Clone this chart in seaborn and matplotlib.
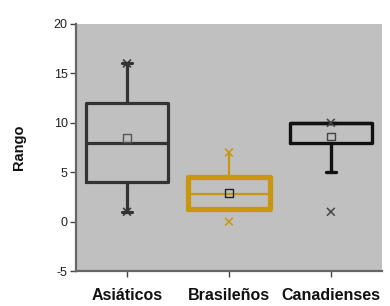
import matplotlib
matplotlib.use("Agg")
import matplotlib.pyplot as plt
import seaborn as sns
import pandas as pd

categories = ["Asiáticos", "Brasileños", "Canadienses"]
q1 = [4, 1.25, 8]
median = [8, 2.8, 10]
q3 = [12, 4.55, 10]
whisker_low = [1, 1.25, 5]
whisker_high = [16, 7, 10]
means = [8.45, 2.9, 8.6]
min_vals = [1, 0, 1]
max_vals = [16, 7, 10]
yticks = [-5, 0, 5, 10, 15, 20]

box_colors = ["#333333", "#C9970E", "#111111"]
box_lw = [2.3, 3.8, 2.4]
inner_lw = [2.3, 1.6, 2.4]
mean_colors = ["#555555", "#222222", "#444444"]
mark_colors = ["#333333", "#C9970E", "#444444"]
cap_w = [0.1, 0.0, 0.1]

sns.set_theme(style="ticks")
plt.rcParams["font.family"] = ["Liberation Sans", "DejaVu Sans"]

fig = plt.figure(figsize=(3.9, 3.06), dpi=100)
ax = fig.add_axes([0.195, 0.114, 0.784, 0.808])
ax.set_facecolor("#C0C0C0")

for i, cat in enumerate(categories):
    stats = [dict(label=cat, med=median[i], q1=q1[i], q3=q3[i],
                  whislo=whisker_low[i], whishi=whisker_high[i], fliers=[])]
    c = box_colors[i]
    ax.bxp(stats, positions=[i], widths=0.8, showfliers=False,
           showcaps=cap_w[i] > 0, capwidths=cap_w[i] if cap_w[i] > 0 else None,
           boxprops=dict(color=c, linewidth=box_lw[i]),
           medianprops=dict(color=c, linewidth=inner_lw[i]),
           whiskerprops=dict(color=c, linewidth=inner_lw[i]),
           capprops=dict(color=c, linewidth=inner_lw[i]),
           manage_ticks=False)

df_mean = pd.DataFrame({"x": range(3), "y": means})
sns.scatterplot(data=df_mean, x="x", y="y", marker="s", s=28,
                facecolor="none", edgecolor=mean_colors, linewidth=1.0, ax=ax, zorder=5)

df_ext = pd.DataFrame({"x": list(range(3)) * 2, "y": min_vals + max_vals,
                       "c": mark_colors * 2})
sns.scatterplot(data=df_ext, x="x", y="y", marker="x", s=32,
                color=list(df_ext["c"]), linewidth=1.1, ax=ax, zorder=6)

ax.set_xlim(-0.5, 2.5)
ax.set_ylim(-5, 20)
ax.set_yticks(yticks)
ax.set_yticklabels([str(t) for t in yticks], fontsize=9, color="#222222")
ax.set_xticks(range(3))
ax.set_xticklabels(categories, fontsize=11.5, fontweight="bold", color="#111111")
ax.set_xlabel("")
ax.set_ylabel("Rango", fontsize=10.5, fontweight="bold", color="#111111", labelpad=20)
for s in ["top", "right"]:
    ax.spines[s].set_visible(False)
for s in ["left", "bottom"]:
    ax.spines[s].set_color("#666666")
    ax.spines[s].set_linewidth(1.6)
ax.tick_params(axis="y", length=4, width=1, color="#444444", pad=2)
ax.tick_params(axis="x", length=4, width=1, color="#444444", pad=8)

fig.savefig("out.png", dpi=100)
